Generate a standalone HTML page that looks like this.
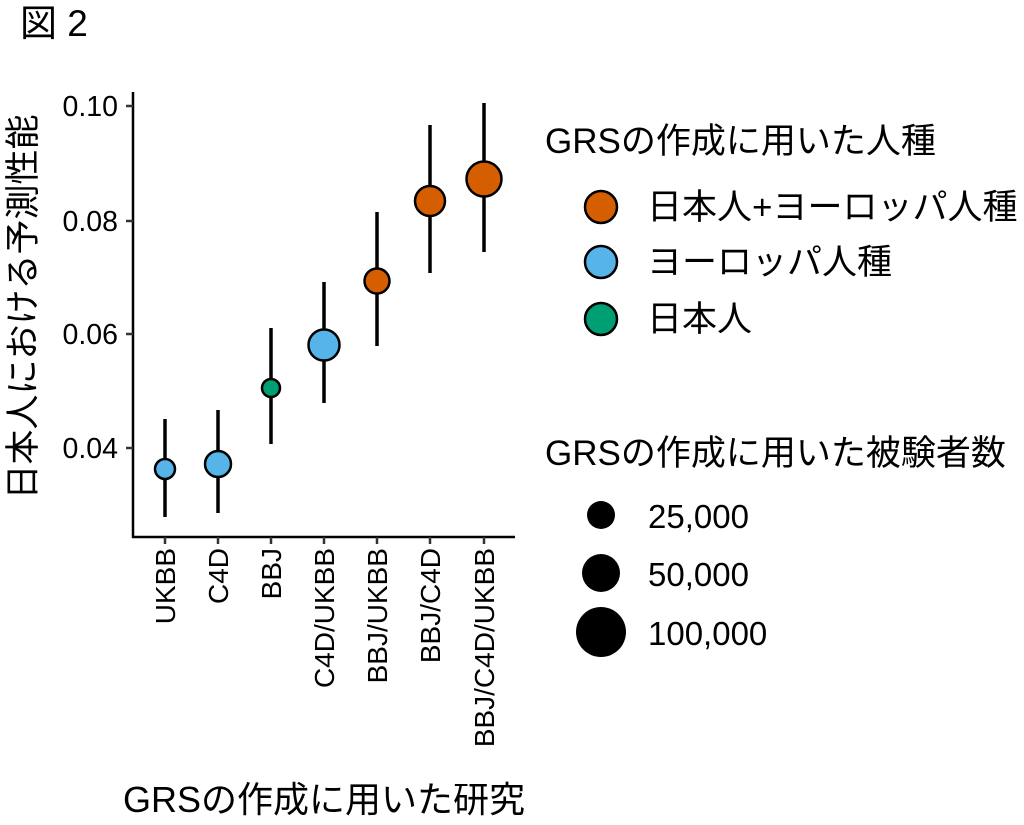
<!DOCTYPE html>
<html><head><meta charset="utf-8"><style>
html,body{margin:0;padding:0;background:#fff;}
svg text{font-family:"Liberation Sans","Noto Sans CJK JP",sans-serif;fill:#000;}
</style></head><body>
<svg width="1024" height="820" viewBox="0 0 1024 820" xmlns="http://www.w3.org/2000/svg">
<text x="20" y="36" font-size="37">図 2</text>
<!-- axes -->
<line x1="133" y1="92" x2="133" y2="538" stroke="#000" stroke-width="2.5"/>
<line x1="132" y1="537" x2="515" y2="537" stroke="#000" stroke-width="2.5"/>
<g stroke="#333" stroke-width="2.5">
<line x1="126" y1="106" x2="133" y2="106"/><line x1="126" y1="221" x2="133" y2="221"/>
<line x1="126" y1="334" x2="133" y2="334"/><line x1="126" y1="448" x2="133" y2="448"/>
<line x1="165" y1="537" x2="165" y2="544"/><line x1="218" y1="537" x2="218" y2="544"/>
<line x1="271" y1="537" x2="271" y2="544"/><line x1="324" y1="537" x2="324" y2="544"/>
<line x1="377" y1="537" x2="377" y2="544"/><line x1="430" y1="537" x2="430" y2="544"/>
<line x1="484" y1="537" x2="484" y2="544"/>
</g>
<g font-size="28.5" text-anchor="end" fill="#1a1a1a">
<text x="118" y="116">0.10</text><text x="118" y="231">0.08</text>
<text x="118" y="344">0.06</text><text x="118" y="458">0.04</text>
</g>
<text transform="translate(35,307) rotate(-90)" font-size="35" text-anchor="middle">日本人における予測性能</text>
<g font-size="28" text-anchor="end">
<text transform="translate(175,548) rotate(-90)">UKBB</text>
<text transform="translate(228,548) rotate(-90)">C4D</text>
<text transform="translate(281,548) rotate(-90)">BBJ</text>
<text transform="translate(334,548) rotate(-90)">C4D/UKBB</text>
<text transform="translate(387,548) rotate(-90)">BBJ/UKBB</text>
<text transform="translate(440,548) rotate(-90)">BBJ/C4D</text>
<text transform="translate(494,548) rotate(-90)">BBJ/C4D/UKBB</text>
</g>
<text x="324" y="812" font-size="36" text-anchor="middle">GRSの作成に用いた研究</text>
<!-- error bars -->
<g stroke="#000" stroke-width="3.5">
<line x1="165" y1="419" x2="165" y2="517"/><line x1="218" y1="410" x2="218" y2="513"/>
<line x1="271" y1="328" x2="271" y2="444"/><line x1="324" y1="282" x2="324" y2="403"/>
<line x1="377" y1="212" x2="377" y2="346"/><line x1="430" y1="125" x2="430" y2="273"/>
<line x1="484" y1="103" x2="484" y2="252"/>
</g>
<g stroke="#000" stroke-width="2.5">
<circle cx="165" cy="469" r="10" fill="#56B4E9"/>
<circle cx="218" cy="464" r="13" fill="#56B4E9"/>
<circle cx="271" cy="388" r="9" fill="#009E73"/>
<circle cx="324" cy="345" r="15.5" fill="#56B4E9"/>
<circle cx="377" cy="281" r="12.5" fill="#D55E00"/>
<circle cx="430" cy="201" r="15" fill="#D55E00"/>
<circle cx="484" cy="179" r="17.5" fill="#D55E00"/>
</g>
<!-- legend -->
<text x="545" y="153" font-size="35">GRSの作成に用いた人種</text>
<g stroke="#000" stroke-width="2.5">
<circle cx="601" cy="207" r="16" fill="#D55E00"/>
<circle cx="601" cy="262" r="16" fill="#56B4E9"/>
<circle cx="601" cy="319" r="16" fill="#009E73"/>
</g>
<g font-size="35">
<text x="647" y="219">日本人+ヨーロッパ人種</text>
<text x="647" y="274">ヨーロッパ人種</text>
<text x="647" y="331">日本人</text>
</g>
<text x="545" y="465" font-size="35">GRSの作成に用いた被験者数</text>
<circle cx="601" cy="515" r="14" fill="#000"/>
<circle cx="601" cy="573" r="19" fill="#000"/>
<circle cx="601" cy="632" r="25" fill="#000"/>
<g font-size="33">
<text x="648" y="528">25,000</text>
<text x="648" y="586">50,000</text>
<text x="648" y="645">100,000</text>
</g>
</svg>
</body></html>
